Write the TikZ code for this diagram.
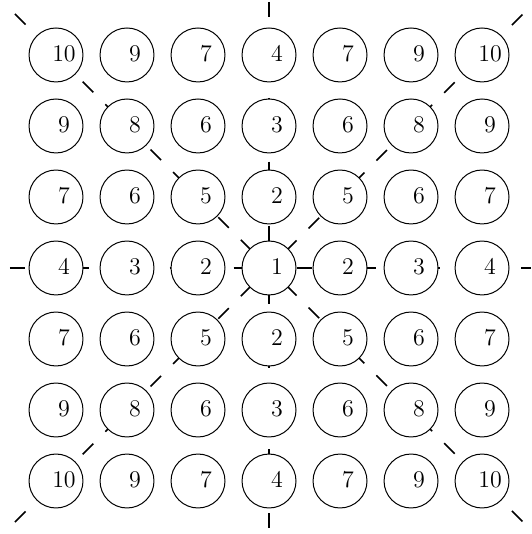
\documentclass[tikz,border=0pt]{standalone}
\usetikzlibrary{math}
\begin{document}
\begin{tikzpicture}
\tikzmath{
\dist=1.25;
\rad=0.95;
\e=4.472;
}
\tikzset{
ring/.style={circle, draw, line width=0.5pt, fill=white, minimum size=\rad cm, inner sep=0pt},
ray/.style={line width=0.8pt, dash pattern=on 7.5pt off 8.5pt},
num/.style={xshift=4pt, yshift=0.8pt, inner sep=0pt, font=\large}
}
\useasboundingbox (-4.736,-4.683) rectangle (4.613,4.718);

%ends of the rays
\coordinate (l) at (-4.56,0);
\coordinate (r) at (4.62,0);
\coordinate (t) at (0,4.683);
\coordinate (b) at (0,-4.683);
\coordinate (tl) at (-\e,\e);
\coordinate (br) at (\e,-\e);
\coordinate (bl) at (-\e,-\e);
\coordinate (tr) at (\e,\e);

%rays
\draw[ray] (l) -- (r);
\draw[ray] (t) -- (b);
\draw[ray] (tl) -- (br);
\draw[ray] (bl) -- (tr);

%grid
\foreach \row [count=\i from 0] in {{10,9,7,4,7,9,10},{9,8,6,3,6,8,9},{7,6,5,2,5,6,7},{4,3,2,1,2,3,4},{7,6,5,2,5,6,7},{9,8,6,3,6,8,9},{10,9,7,4,7,9,10}}{
  \foreach \n [count=\j from 0] in \row {
    \node[ring] (c\i\j) at ({(\j-3)*\dist},{(3-\i)*\dist}) {};
    \node[num] (n\i\j) at (c\i\j) {\n};
  }
}
\end{tikzpicture}
\end{document}
